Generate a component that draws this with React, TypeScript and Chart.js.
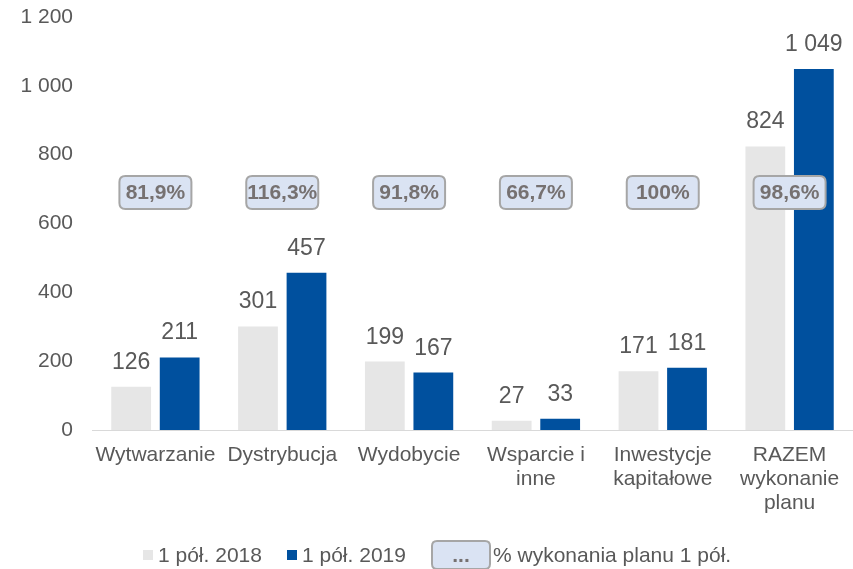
import React, { useEffect, useRef } from "react";
import { Chart, registerables } from "chart.js";

Chart.register(...registerables);

const categories: (string | string[])[] = [
  "Wytwarzanie",
  "Dystrybucja",
  "Wydobycie",
  ["Wsparcie i", "inne"],
  ["Inwestycje", "kapitałowe"],
  ["RAZEM", "wykonanie", "planu"],
];
const values2018 = [126, 301, 199, 27, 171, 824];
const values2019 = [211, 457, 167, 33, 181, 1049];
const planPercent = ["81,9%", "116,3%", "91,8%", "66,7%", "100%", "98,6%"];
const yTicks = [0, 200, 400, 600, 800, 1000, 1200];
const legendLabels = ["1 pół. 2018", "1 pół. 2019", "% wykonania planu 1 pół."];
const boxLevel = 690;

const FONT = "'Liberation Sans', Arial, sans-serif";
const LIGHT = "#e6e6e6";
const DARK = "#00509e";
const TEXT = "#595959";

const fmt = (v: number) => String(v).replace(/\B(?=(\d{3})+(?!\d))/g, " ");

function roundRect(ctx: CanvasRenderingContext2D, x: number, y: number, w: number, h: number, r: number) {
  ctx.beginPath();
  ctx.moveTo(x + r, y);
  ctx.lineTo(x + w - r, y);
  ctx.quadraticCurveTo(x + w, y, x + w, y + r);
  ctx.lineTo(x + w, y + h - r);
  ctx.quadraticCurveTo(x + w, y + h, x + w - r, y + h);
  ctx.lineTo(x + r, y + h);
  ctx.quadraticCurveTo(x, y + h, x, y + h - r);
  ctx.lineTo(x, y + r);
  ctx.quadraticCurveTo(x, y, x + r, y);
  ctx.closePath();
}

const overlayPlugin = {
  id: "overlay",
  afterDatasetsDraw(chart: any) {
    const ctx: CanvasRenderingContext2D = chart.ctx;
    ctx.save();
    // value labels
    ctx.font = `23px ${FONT}`;
    ctx.fillStyle = TEXT;
    ctx.textAlign = "center";
    ctx.textBaseline = "alphabetic";
    chart.data.datasets.forEach((ds: any, di: number) => {
      const meta = chart.getDatasetMeta(di);
      meta.data.forEach((bar: any, i: number) => {
        ctx.fillText(fmt(ds.data[i]), bar.x, bar.y - 18);
      });
    });
    // plan boxes
    const xs = chart.scales.x;
    const ys = chart.scales.y;
    const by = ys.getPixelForValue(boxLevel);
    planPercent.forEach((p, i) => {
      const cx = xs.getPixelForValue(i);
      const w = 72, h = 33;
      roundRect(ctx, cx - w / 2, by - h / 2, w, h, 6);
      ctx.fillStyle = "#dae3f3";
      ctx.fill();
      ctx.lineWidth = 2;
      ctx.strokeStyle = "#a6a6a6";
      ctx.stroke();
      ctx.fillStyle = "#767171";
      ctx.font = `bold 21px ${FONT}`;
      ctx.textAlign = "center";
      ctx.textBaseline = "middle";
      ctx.fillText(p, cx, by + 1);
    });
    // legend
    const ly = 555;
    ctx.font = `21px ${FONT}`;
    ctx.textAlign = "left";
    ctx.textBaseline = "middle";
    let x = 143;
    ctx.fillStyle = LIGHT;
    ctx.fillRect(x, ly - 5, 10, 10);
    ctx.fillStyle = TEXT;
    ctx.fillText(legendLabels[0], x + 15, ly + 1);
    x = 287;
    ctx.fillStyle = DARK;
    ctx.fillRect(x, ly - 5, 10, 10);
    ctx.fillStyle = TEXT;
    ctx.fillText(legendLabels[1], x + 15, ly + 1);
    x = 432;
    roundRect(ctx, x, ly - 14, 58, 28, 5);
    ctx.fillStyle = "#dae3f3";
    ctx.fill();
    ctx.lineWidth = 2;
    ctx.strokeStyle = "#a6a6a6";
    ctx.stroke();
    ctx.fillStyle = "#767171";
    ctx.font = `bold 21px ${FONT}`;
    ctx.textAlign = "center";
    ctx.fillText("...", x + 29, ly + 1);
    ctx.font = `21px ${FONT}`;
    ctx.textAlign = "left";
    ctx.fillStyle = TEXT;
    ctx.fillText(legendLabels[2], x + 61, ly + 1);
    ctx.restore();
  },
};

export default function App() {
  const ref = useRef<HTMLCanvasElement>(null);
  useEffect(() => {
    document.body.style.margin = "0";
    const chart = new Chart(ref.current!, {
      type: "bar",
      data: {
        labels: categories,
        datasets: [
          { label: legendLabels[0], data: values2018, backgroundColor: LIGHT, barPercentage: 0.82, categoryPercentage: 0.765 },
          { label: legendLabels[1], data: values2019, backgroundColor: DARK, barPercentage: 0.82, categoryPercentage: 0.765 },
        ],
      },
      options: {
        animation: false,
        responsive: false,
        layout: { padding: { top: 17, right: 0, bottom: 0, left: 0 } },
        plugins: { legend: { display: false }, tooltip: { enabled: false } },
        scales: {
          x: {
            grid: { display: false, drawTicks: false },
            border: { display: true, color: "#d9d9d9", width: 1 },
            ticks: { color: TEXT, font: { family: FONT, size: 21, lineHeight: 1.15 }, padding: 13, maxRotation: 0, autoSkip: false },
            afterFit: (s: any) => { s.height = 139; s.paddingLeft = 0; s.paddingRight = 0; },
          },
          y: {
            min: 0,
            max: 1200,
            afterBuildTicks: (s: any) => { s.ticks = yTicks.map((v) => ({ value: v })); },
            grid: { display: false, drawTicks: false },
            border: { display: false },
            ticks: { color: TEXT, font: { family: FONT, size: 21 }, padding: 19, callback: (v: any) => fmt(Number(v)) },
            afterFit: (s: any) => { s.width = 92; s.paddingTop = 0; s.paddingBottom = 0; },
          },
        },
      },
      plugins: [overlayPlugin],
    });
    return () => chart.destroy();
  }, []);
  return <canvas ref={ref} width={853} height={569} style={{ display: "block" }} />;
}
